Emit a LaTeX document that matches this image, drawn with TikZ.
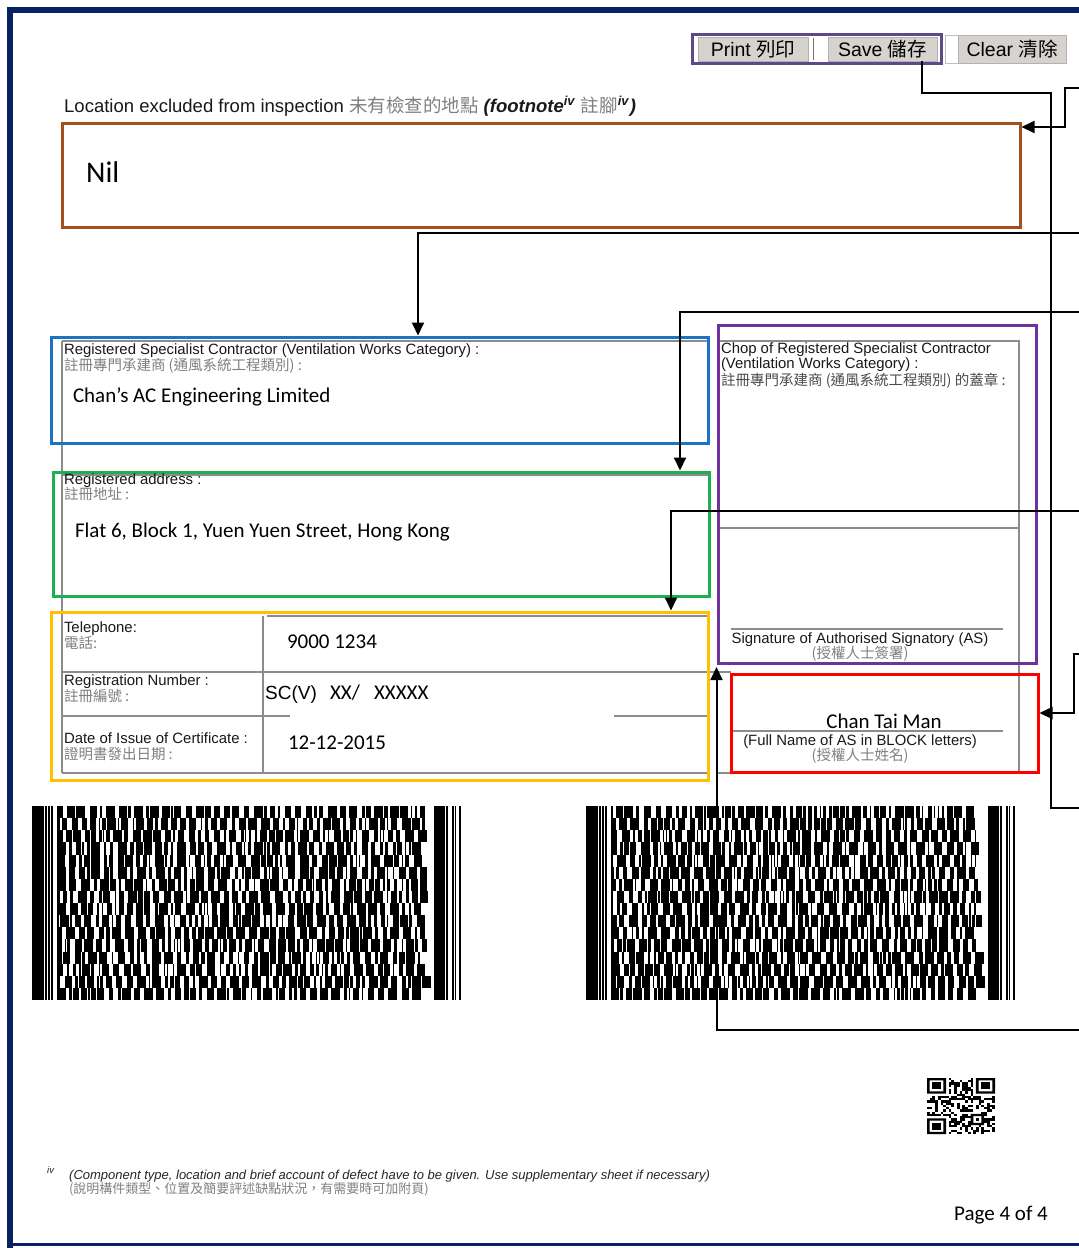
\documentclass[tikz,border=0pt]{standalone}
\usepackage{fontspec}
\setmainfont{Liberation Sans}
\newfontfamily\calfont{Carlito}
\newfontfamily\cjk{Noto Sans CJK TC}
\usetikzlibrary{arrows.meta,calc}
\definecolor{navy}{HTML}{0A2160}
\definecolor{brownc}{HTML}{A3521E}
\definecolor{bluec}{HTML}{1A73C5}
\definecolor{greenc}{HTML}{1DB04F}
\definecolor{yellowc}{HTML}{FFC000}
\definecolor{purplec}{HTML}{7030A0}
\definecolor{redc}{HTML}{FF0000}
\definecolor{btnpurple}{HTML}{5F4887}
\definecolor{btngray}{HTML}{D6D3CE}
\newcommand\mybarcode[2]{%
\begin{scope}[shift={(#1,806)}, x=1.479pt, y=-1pt]
 \foreach \a/\b in {0/8,9/1,11/1,13/1}{\fill (\a,0) rectangle ++(\b,194);}
 \foreach \a/\b in {272/7,280/1,284/1,286/1,289/1}{\fill (\a,0) rectangle ++(\b,194);}
 \pgfmathsetseed{#2}
 \foreach \r in {0,...,15}{%
   \pgfmathsetmacro\yy{\r*194/16}%
   \def\xx{17}%
   \loop
     \pgfmathsetmacro\bw{random(1,6)}%
     \pgfmathsetmacro\sw{random(1,3)}%
     \fill (\xx,\yy) rectangle ++(\bw,12.2);%
     \pgfmathsetmacro\xx{\xx+\bw+\sw}%
   \ifdim\xx pt<265pt\repeat
 }
\end{scope}}
\begin{document}
\begin{tikzpicture}[x=1pt,y=-1pt,
  lab/.style={anchor=base west, inner sep=0pt, outer sep=0pt, text=black!90, font=\fontsize{14.9}{17}\selectfont},
  labc/.style={lab, anchor=base},
  zh/.style={anchor=base west, inner sep=0pt, outer sep=0pt, text=black!50, font=\cjk\fontsize{14.5}{17}\selectfont},
  zhc/.style={zh, anchor=base},
  val/.style={anchor=base west, inner sep=0pt, outer sep=0pt, text=black, font=\calfont\fontsize{21}{25}\selectfont},
  cbox/.style={draw, line width=3pt, inner sep=0pt, outer sep=0pt},
  formline/.style={draw=black!45, line width=1.1pt},
  conn/.style={draw=black, line width=2pt},
  arr/.style={conn, -{Triangle[length=13pt,width=12pt]}},
  btn/.style={fill=btngray, draw=black!30, line width=0.8pt, inner sep=0pt, minimum height=24pt, font=\fontsize{19.5}{22}\selectfont}
]
\useasboundingbox (0,0) rectangle (1079,1248);
\fill[white] (0,0) rectangle (1079,1248);
% page frame
\fill[navy] (7,7) rectangle (1079,13);
\fill[navy] (7,7) rectangle (13,1248);
\fill[navy] (7,1243) rectangle (1079,1246);

% buttons
\node[btn, minimum width=110pt] (print) at (753,49) {Print {\cjk 列印}};
\draw[black!55, line width=1pt] (813,38) -- (813,60);
\node[btn, minimum width=109pt] (save) at (882.5,49) {Save {\cjk 儲存}};
\node[draw=black!25, line width=0.8pt, minimum width=13pt, minimum height=28pt, inner sep=0pt] (gapbox) at (951.5,49.5) {};
\node[btn, minimum width=108pt, minimum height=28pt] (clear) at (1012,49.5) {Clear {\cjk 清除}};
\node[draw=btnpurple, line width=3pt, minimum width=249pt, minimum height=29pt, inner sep=0pt] (btnframe) at (816.5,48.5) {};

% header
\node[anchor=base west, inner sep=0pt, text=black!90, font=\fontsize{18.5}{21}\selectfont] (hdr) at (64,112)
 {Location excluded from inspection {\cjk\color{black!50}未有檢查的地點} \textbf{\textit{(footnote}}\textsuperscript{\textbf{\textit{iv}}} {\cjk\color{black!50}註腳}\textsuperscript{\textbf{\textit{iv}}}\textbf{\textit{)}}};

% form grey lines
\draw[formline] (62,341) -- (62,773);
\draw[formline] (62,341) -- (708,341);
\draw[formline] (62,475) -- (708,475);
\draw[formline] (267,616) -- (708,616);
\draw[formline] (62,672) -- (708,672);
\draw[formline] (62,716) -- (290,716);
\draw[formline] (614,716) -- (708,716);
\draw[formline] (62,773) -- (708,773);
\draw[formline] (263,616) -- (263,773);
\draw[formline] (719,341) rectangle (1019,663);
\draw[formline] (719,528) -- (1019,528);
\draw[formline] (1019,341) -- (1019,773);
\draw[formline] (710,672) -- (731,672);
\draw[formline] (717,773) -- (1019,773);
\draw[formline] (731,629) -- (1003,629);
\draw[formline] (731,731) -- (1003,731);

% coloured boxes
\node[cbox, draw=brownc, minimum width=958pt, minimum height=104pt] (nil) at (541,175) {};
\node[cbox, draw=bluec, minimum width=657pt, minimum height=106pt] (blue) at (379.5,390) {};
\node[cbox, draw=greenc, minimum width=656pt, minimum height=124pt] (green) at (381,534) {};
\node[cbox, draw=yellowc, minimum width=657pt, minimum height=168pt] (yellow) at (379.5,696) {};
\node[cbox, draw=purplec, minimum width=318pt, minimum height=338pt] (purple) at (877,494) {};
\node[cbox, draw=redc, minimum width=307pt, minimum height=98pt] (red) at (884.5,723) {};

% texts
\node[anchor=base west, inner sep=0pt, font=\calfont\fontsize{30}{34}\selectfont] (niltxt) at (86,182) {Nil};
\node[lab] (rsc1) at (64,354) {Registered Specialist Contractor (Ventilation Works Category) :};
\node[zh] (rsc2) at (64,370) {註冊專門承建商 (通風系統工程類別) :};
\node[val] (rsc3) at (73,402) {Chan’s AC Engineering Limited};
\node[lab] (addr1) at (64,484) {Registered address :};
\node[zh] (addr2) at (64,499) {註冊地址 :};
\node[val] (addr3) at (75,537) {Flat 6, Block 1, Yuen Yuen Street, Hong Kong};
\node[lab] (tel1) at (64,632) {Telephone:};
\node[zh] (tel2) at (64,648) {電話:};
\node[val] (tel3) at (287,648) {9000 1234};
\node[lab] (reg1) at (64,685) {Registration Number :};
\node[zh] (reg2) at (64,701) {註冊編號 :};
\node[anchor=base west, inner sep=0pt, font=\fontsize{19}{22}\selectfont] (reg3) at (265,699) {SC(V)};
\node[val] (reg4) at (330,699) {XX/};
\node[val] (reg5) at (374,699) {XXXXX};
\node[lab] (dt1) at (64,743) {Date of Issue of Certificate :};
\node[zh] (dt2) at (64,759) {證明書發出日期 :};
\node[val] (dt3) at (288,749) {12-12-2015};
\node[lab] (chop1) at (721,353) {Chop of Registered Specialist Contractor};
\node[lab] (chop2) at (721,368) {(Ventilation Works Category) :};
\node[zh, text=black!70] (chop3) at (721,385) {註冊專門承建商 (通風系統工程類別) 的蓋章 :};
\node[labc] (sig1) at (860,643) {Signature of Authorised Signatory (AS)};
\node[zhc] (sig2) at (860,658) {(授權人士簽署)};
\node[anchor=base, inner sep=0pt, font=\calfont\fontsize{21}{25}\selectfont] (nm) at (884,728) {Chan Tai Man};
\node[labc] (fn1) at (860,745) {(Full Name of AS in BLOCK letters)};
\node[zhc] (fn2) at (860,760) {(授權人士姓名)};
\node[anchor=base west, inner sep=0pt, text=black!85, font=\fontsize{9.5}{10}\selectfont] (ftiv) at (47,1173) {\textit{iv}};
\node[anchor=base west, inner sep=0pt, text=black!85, font=\fontsize{13}{15}\selectfont] (ft1) at (69,1179) {\textit{(Component type, location and brief account of defect have to be given. Use supplementary sheet if necessary)}};
\node[zh, font=\cjk\fontsize{13}{15}\selectfont] (ft2) at (69,1193) {(說明構件類型、位置及簡要評述缺點狀況，有需要時可加附頁)};
\node[anchor=base west, inner sep=0pt, font=\calfont\fontsize{21}{25}\selectfont] (page) at (954,1220) {Page 4 of 4};

% barcodes
\mybarcode{32}{4711}
\mybarcode{586}{2024}

% QR code
\begin{scope}[shift={(927,1078)}, x=2.72pt, y=-2.24pt]
 \pgfmathsetseed{99}
 \foreach \i in {0,...,24}{\foreach \j in {0,...,24}{%
   \pgfmathsetmacro\qq{((\i<8 && \j<8) || (\i>16 && \j<8) || (\i<8 && \j>16) || (\i>15 && \i<21 && \j>15 && \j<21) || \i==6 || \j==6) ? 0 : rnd}%
   \ifdim\qq pt>0.5pt \fill (\i,\j) rectangle ++(1,1);\fi
 }}
 \foreach \a/\b in {0/0,18/0,0/18}{\fill[even odd rule] (\a,\b) rectangle ++(7,7) (\a+1,\b+1) rectangle ++(5,5); \fill (\a+2,\b+2) rectangle ++(3,3);}
 \fill[even odd rule] (16,16) rectangle ++(5,5) (17,17) rectangle ++(3,3);
 \fill (18,18) rectangle ++(1,1);
 \foreach \k in {8,10,...,16}{\fill (\k,6) rectangle ++(1,1); \fill (6,\k) rectangle ++(1,1);}
\end{scope}

% connectors
\coordinate (e1) at (1079,808);
\coordinate (e2) at (1079,88);
\coordinate (e3) at (1079,233);
\coordinate (e4) at (1079,312);
\coordinate (e5) at (1079,511);
\coordinate (e6) at (1079,654);
\coordinate (e7) at (1079,1030);
\draw[conn] ($(save.south)+(39.5,0)$) |- (1051,93) |- (e1);
\draw[arr] (e2) -| (1065,127) -- ($(nil.north east)+(1.5,4)$);
\draw[arr] (e3) -| ($(blue.north west)+(367,-1.5)$);
\draw[arr] (e4) -| ($(green.north west)+(627,-1.5)$);
\draw[arr] (e5) -| ($(yellow.north west)+(620,-1.5)$);
\draw[arr] (e6) -| (1074,713) -- ($(red.east)+(1.5,-10)$);
\draw[arr] (e7) -| ($(purple.south west)+(-1.5,4)$);
\end{tikzpicture}
\end{document}
